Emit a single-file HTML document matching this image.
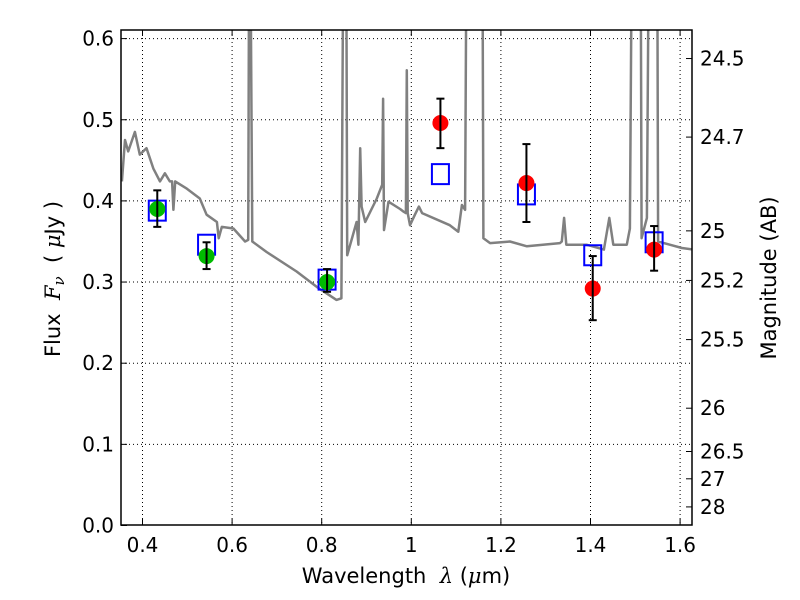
<!DOCTYPE html>
<html><head><meta charset="utf-8">
<style>
html,body{margin:0;padding:0;background:#fff;}
svg{display:block;font-family:"DejaVu Sans","Liberation Sans",sans-serif;}
</style></head>
<body>
<svg id="chart" width="800" height="600" viewBox="0 0 800 600" xmlns="http://www.w3.org/2000/svg">
<rect x="0" y="0" width="800" height="600" fill="#fff"/>
<defs><clipPath id="clip"><rect x="121" y="30" width="571" height="495"/></clipPath></defs>
<g id="grid"></g>
<g id="spec" clip-path="url(#clip)"></g>
<g id="marks"></g>
<g id="axes"></g>
<text x="406" y="583" font-size="21" text-anchor="middle">Wavelength&#160;&#160;<tspan font-style="italic" font-family="DejaVu Serif,serif">λ</tspan> (<tspan font-style="italic" font-family="DejaVu Serif,serif">μ</tspan>m)</text>
<text transform="translate(60,279) rotate(-90)" font-size="21" text-anchor="middle">Flux&#160;&#160;<tspan font-style="italic" font-family="DejaVu Serif,serif">F</tspan><tspan font-style="italic" font-family="DejaVu Serif,serif" font-size="15" dy="4">ν</tspan><tspan dy="-4">&#160;&#160;(&#160;</tspan><tspan font-style="italic" font-family="DejaVu Serif,serif">μ</tspan>Jy&#160;)</text>
<text transform="translate(776,278) rotate(-90)" font-size="21" text-anchor="middle">Magnitude (AB)</text>
</svg>
<script>
const specLam = [0.354,0.361,0.368,0.383,0.394,0.409,0.424,0.439,0.450,0.461,0.466,0.469,0.473,0.499,0.528,0.543,0.566,0.570,0.577,0.603,0.629,0.636,0.638,0.641,0.645,0.677,0.744,0.789,0.833,0.844,0.848,0.849,0.854,0.855,0.857,0.878,0.882,0.886,0.889,0.897,0.923,0.935,0.937,0.939,0.949,0.975,0.982,0.988,0.990,0.992,0.997,1.008,1.017,1.024,1.086,1.105,1.113,1.120,1.123,1.124,1.157,1.159,1.161,1.176,1.220,1.258,1.332,1.336,1.341,1.346,1.391,1.430,1.442,1.451,1.481,1.488,1.492,1.508,1.512,1.514,1.526,1.530,1.533,1.546,1.549,1.551,1.577,1.604,1.63];
const specFlux = [0.424,0.475,0.461,0.485,0.457,0.465,0.440,0.424,0.434,0.424,0.424,0.389,0.424,0.415,0.403,0.383,0.374,0.354,0.368,0.366,0.350,0.352,0.700,0.700,0.350,0.337,0.313,0.294,0.278,0.280,0.700,0.700,0.700,0.700,0.333,0.374,0.346,0.465,0.393,0.374,0.403,0.420,0.526,0.364,0.399,0.390,0.387,0.385,0.561,0.385,0.370,0.383,0.393,0.385,0.370,0.362,0.395,0.389,0.700,0.700,0.700,0.700,0.354,0.348,0.350,0.344,0.348,0.350,0.379,0.346,0.346,0.340,0.379,0.346,0.346,0.366,0.700,0.700,0.700,0.354,0.379,0.700,0.700,0.700,0.700,0.350,0.346,0.342,0.340];
const greenLam = [0.433,0.543,0.812];
const greenFlux = [0.390,0.332,0.300];
const greenLo = [0.368,0.316,0.288];
const greenHi = [0.413,0.349,0.316];
const redLam = [1.065,1.257,1.405,1.542];
const redFlux = [0.496,0.422,0.292,0.340];
const redLo = [0.465,0.374,0.253,0.314];
const redHi = [0.526,0.470,0.332,0.369];
const modelLam = [0.433,0.543,0.812,1.065,1.257,1.405,1.542];
const modelFlux = [0.388,0.346,0.303,0.433,0.408,0.333,0.349];
const xTicks = [0.4,0.6,0.8,1.0,1.2,1.4,1.6];
const xTickLabels = ["0.4","0.6","0.8","1","1.2","1.4","1.6"];
const yTicks = [0,0.1,0.2,0.3,0.4,0.5,0.6];
const yTickLabels = ["0.0","0.1","0.2","0.3","0.4","0.5","0.6"];
const magTicks = [24.5,24.7,25,25.2,25.5,26,26.5,27,28];

const X0=121,X1=692,Y0=30,Y1=525;
function sx(l){return 142.5+(l-0.4)*448;}
function sy(f){return 525.5-f*811.5;}
function magToFlux(m){return Math.pow(10,(23.9-m)/2.5);}
const NS="http://www.w3.org/2000/svg";
function mk(tag,attrs,parent){const e=document.createElementNS(NS,tag);for(const k in attrs)e.setAttribute(k,attrs[k]);parent.appendChild(e);return e;}
const grid=document.getElementById('grid'),spec=document.getElementById('spec'),marks=document.getElementById('marks'),axes=document.getElementById('axes');

xTicks.forEach((t,i)=>{
  const x=sx(t);
  const g=mk('line',{x1:x,x2:x,y1:Y0,y2:Y1,stroke:'#000','stroke-width':1,'stroke-dasharray':'1,3'},grid);
  
  
  const a=mk('line',{x1:x,x2:x,y1:Y1,y2:Y1-6,stroke:'#000'},axes);
  
  
  const b=mk('line',{x1:x,x2:x,y1:Y0,y2:Y0+6,stroke:'#000'},axes);
  
  
  const tx=mk('text',{x:x,y:Y1+27,'font-size':20,'text-anchor':'middle'},axes);
  tx.textContent=xTickLabels[i];
  
  
});
yTicks.forEach((t,i)=>{
  const y=sy(t);
  if(t>0){
  const g=mk('line',{x1:X0,x2:X1,y1:y,y2:y,stroke:'#000','stroke-width':1,'stroke-dasharray':'1,3'},grid);
  
  }
  const a=mk('line',{x1:X0,x2:X0+6,y1:y,y2:y,stroke:'#000'},axes);
  
  
  const tx=mk('text',{x:X0-7,y:y+7,'font-size':20,'text-anchor':'end'},axes);
  tx.textContent=yTickLabels[i];
  
  
});
magTicks.forEach(m=>{
  const y=sy(magToFlux(m));
  const a=mk('line',{x1:X1-6,x2:X1,y1:y,y2:y,stroke:'#000'},axes);
  
  
  const tx=mk('text',{x:X1+8,y:y+7,'font-size':20},axes);
  tx.textContent=String(m);
  
  
});
const fr=mk('rect',{x:X0,y:Y0,width:X1-X0,height:Y1-Y0,fill:'none',stroke:'#000','stroke-width':1.5},axes);



const pts=specLam.map((l,i)=>sx(l).toFixed(1)+','+sy(specFlux[i]).toFixed(1)).join(' ');
const pl=mk('polyline',{points:pts,fill:'none',stroke:'#808080','stroke-width':2.5,'stroke-linejoin':'round'},spec);



modelLam.forEach((l,i)=>{
  const r=mk('rect',{x:sx(l)-8.5,y:sy(modelFlux[i])-10,width:17,height:20,fill:'none',stroke:'#0000ff','stroke-width':2},marks);
  
  
});
function pointWithErr(l,f,lo,hi,color,name){
  const x=sx(l);
  const c=mk('circle',{cx:x,cy:sy(f),r:8,fill:color},marks);
  
  
  const g=mk('g',{stroke:'#000','stroke-width':2},marks);
  
  
  mk('line',{x1:x,x2:x,y1:sy(lo),y2:sy(hi)},g);
  mk('line',{x1:x-4,x2:x+4,y1:sy(lo),y2:sy(lo)},g);
  mk('line',{x1:x-4,x2:x+4,y1:sy(hi),y2:sy(hi)},g);
}
greenLam.forEach((l,i)=>pointWithErr(l,greenFlux[i],greenLo[i],greenHi[i],'#00bb00','green-point'));
redLam.forEach((l,i)=>pointWithErr(l,redFlux[i],redLo[i],redHi[i],'#ff0000','red-point'));
</script>
</body></html>
